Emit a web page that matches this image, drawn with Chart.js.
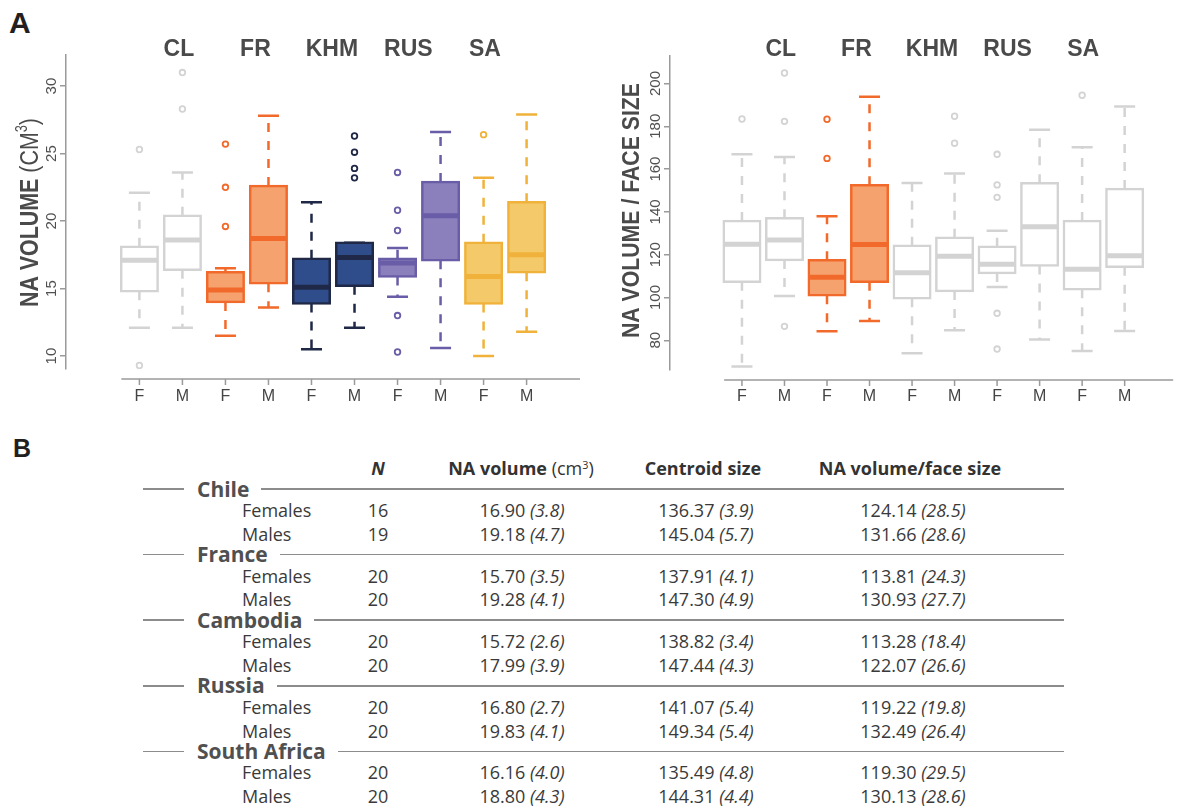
<!DOCTYPE html>
<html>
<head>
<meta charset="utf-8">
<script src="https://cdn.jsdelivr.net/npm/chart.js@4.4.1/dist/chart.umd.min.js"></script>
<style>
  html, body { margin: 0; padding: 0; background: #ffffff; }
  #page { position: relative; width: 1179px; height: 807px; overflow: hidden; font-family: "Open Sans", "Noto Sans", sans-serif; }
  .letter { position: absolute; font-family: "Liberation Sans", Arial, sans-serif; font-weight: bold; color: #231f20; line-height: 1; }
  #volWrap { position: absolute; left: 0; top: 0; width: 590px; height: 420px; }
  #ratioWrap { position: absolute; left: 590px; top: 0; width: 589px; height: 420px; }
  .t { position: absolute; white-space: nowrap; line-height: 1; color: #3a3a3a; font-size: 18px; }
  .c { transform: translate(-50%, -50%); }
  .l { transform: translate(0, -50%); }
  .hd { font-weight: bold; color: #333; }
  .hd .reg { font-weight: normal; }
  sup { font-size: 0.6em; vertical-align: 0.6em; line-height: 0; }
  .country { position: absolute; left: 143px; width: 921px; height: 26px; display: flex; align-items: center; }
  .country .rule { height: 1.5px; background: #8c8c8c; }
  .country .name { font-weight: bold; font-size: 21px; color: #505050; padding: 0 12px 0 13px; line-height: 1; }
</style>
</head>
<body>
<div id="page">
  <div class="letter" style="left:9px;top:8px;font-size:30px;">A</div>
  <div class="letter" style="left:13px;top:436px;font-size:25px;">B</div>
  <div id="volWrap"><canvas id="volChart" width="590" height="420"></canvas></div>
  <div id="ratioWrap"><canvas id="ratioChart" width="589" height="420"></canvas></div>
</div>
<script>
// Population groups along the x axis, each split into females and males
const groups = ['CL', 'FR', 'KHM', 'RUS', 'SA'];
const sexes = ['F', 'M'];

// NA volume (cm³); boxes ordered CL-F, CL-M, FR-F, FR-M, KHM-F, KHM-M, RUS-F, RUS-M, SA-F, SA-M
const volLow  = [12.1, 12.1, 11.5, 13.6, 10.5, 12.1, 14.4, 10.6, 10.0, 11.8];
const volQ1   = [14.8, 16.4, 14.0, 15.4, 13.9, 15.2, 15.9, 17.1, 13.9, 16.2];
const volMed  = [17.1, 18.6, 14.9, 18.7, 15.1, 17.3, 16.9, 20.4, 15.9, 17.5];
const volQ3   = [18.1, 20.4, 16.2, 22.6, 17.2, 18.4, 17.2, 22.9, 18.4, 21.4];
const volHigh = [22.1, 23.6, 16.5, 27.8, 21.4, 18.4, 18.0, 26.6, 23.2, 27.9];
const volOut  = [[25.3, 9.3], [31.0, 28.3], [25.7, 22.5, 19.6], [], [], [26.3, 25.1, 23.9, 23.2],
                 [23.6, 20.8, 19.3, 13.0, 10.3], [], [26.4], []];
const volTicks = [10, 15, 20, 25, 30];

// NA volume / face size
const ratioLow  = [67.7, 100.7, 84.2, 89.0, 73.9, 84.7, 104.9, 80.3, 75.0, 84.3];
const ratioQ1   = [107.4, 117.5, 101.0, 107.4, 99.6, 103.0, 111.4, 114.9, 103.8, 114.3];
const ratioMed  = [124.9, 126.9, 109.4, 124.7, 111.6, 119.3, 115.5, 133.1, 113.2, 119.5];
const ratioQ3   = [135.7, 137.0, 117.4, 152.4, 124.2, 127.9, 123.7, 153.4, 135.7, 150.7];
const ratioHigh = [166.9, 165.7, 138.0, 193.8, 153.5, 157.9, 131.2, 178.4, 170.2, 189.3];
const ratioOut  = [[183.4], [204.9, 182.3, 86.5], [183.3, 165.0], [], [], [184.7, 172.1],
                   [166.9, 152.6, 146.8, 92.6, 75.9], [], [194.5], []];
const ratioTicks = [80, 100, 120, 140, 160, 180, 200];

// Summary table: mean (SD) per country and sex
const countries   = ['Chile', 'France', 'Cambodia', 'Russia', 'South Africa'];
const nFemales    = [16, 20, 20, 20, 20];
const nMales      = [19, 20, 20, 20, 20];
const volMeanF    = [16.90, 15.70, 15.72, 16.80, 16.16];
const volSdF      = [3.8, 3.5, 2.6, 2.7, 4.0];
const volMeanM    = [19.18, 19.28, 17.99, 19.83, 18.80];
const volSdM      = [4.7, 4.1, 3.9, 4.1, 4.3];
const csMeanF     = [136.37, 137.91, 138.82, 141.07, 135.49];
const csSdF       = [3.9, 4.1, 3.4, 5.4, 4.8];
const csMeanM     = [145.04, 147.30, 147.44, 149.34, 144.31];
const csSdM       = [5.7, 4.9, 4.3, 5.4, 4.4];
const ratioMeanF  = [124.14, 113.81, 113.28, 119.22, 119.30];
const ratioSdF    = [28.5, 24.3, 18.4, 19.8, 29.5];
const ratioMeanM  = [131.66, 130.93, 122.07, 132.49, 130.13];
const ratioSdM    = [28.6, 27.7, 26.6, 26.4, 28.6];

// Colours per population group
const GREY = '#d3d3d3';
const groupFill = ['#ffffff', '#f5a26e', '#2f4d8b', '#8b80bb', '#f4c96a'];
const groupLine = [GREY, '#f26a2b', '#1f2846', '#6a5da8', '#f0b23a'];
const ratioFill = ['#ffffff', '#f5a26e', '#ffffff', '#ffffff', '#ffffff'];
const ratioLine = [GREY, '#f26a2b', GREY, GREY, GREY];

const AXIS = '#9a9a9a';
const TITLE = '#4a4a4a';
const SANS = '"Liberation Sans", Arial, sans-serif';

// Whiskers, caps, medians, the detached x axis line and the rotated y title
function boxExtras(spec) {
  return {
    id: 'boxExtras',
    beforeDatasetsDraw(chart) {
      const { ctx, scales: { x, y } } = chart;
      ctx.save();
      ctx.lineWidth = 2.5;
      for (let i = 0; i < spec.low.length; i++) {
        const px = x.getPixelForValue(i);
        ctx.strokeStyle = spec.lines[i];
        ctx.setLineDash([9, 9]);
        ctx.beginPath();
        ctx.moveTo(px, y.getPixelForValue(spec.q3[i]));
        ctx.lineTo(px, y.getPixelForValue(spec.high[i]));
        ctx.moveTo(px, y.getPixelForValue(spec.q1[i]));
        ctx.lineTo(px, y.getPixelForValue(spec.low[i]));
        ctx.stroke();
        ctx.setLineDash([]);
        ctx.beginPath();
        [spec.high[i], spec.low[i]].forEach(v => {
          const py = y.getPixelForValue(v);
          ctx.moveTo(px - 10.5, py);
          ctx.lineTo(px + 10.5, py);
        });
        ctx.stroke();
      }
      ctx.restore();
    },
    afterDatasetsDraw(chart) {
      const { ctx, scales: { x, y } } = chart;
      ctx.save();
      ctx.lineWidth = 5;
      for (let i = 0; i < spec.med.length; i++) {
        const px = x.getPixelForValue(i);
        const py = y.getPixelForValue(spec.med[i]);
        ctx.strokeStyle = spec.lines[i];
        ctx.beginPath();
        ctx.moveTo(px - 18, py);
        ctx.lineTo(px + 18, py);
        ctx.stroke();
      }
      ctx.restore();
    },
    afterDraw(chart) {
      const { ctx, chartArea, scales: { x } } = chart;
      ctx.save();
      // x axis line set below the plotting area, with a tick per box
      const ay = chartArea.bottom + 10;
      ctx.strokeStyle = AXIS;
      ctx.lineWidth = 1.5;
      ctx.beginPath();
      ctx.moveTo(x.getPixelForValue(-0.42), ay);
      ctx.lineTo(chartArea.right, ay);
      for (let i = 0; i < spec.low.length; i++) {
        const px = x.getPixelForValue(i);
        ctx.moveTo(px, ay);
        ctx.lineTo(px, ay + 6);
      }
      ctx.stroke();

      // rotated y title, reading bottom to top
      const t = spec.title;
      ctx.translate(t.baseX, t.startY);
      ctx.rotate(-Math.PI / 2);
      ctx.fillStyle = TITLE;
      ctx.textAlign = 'left';
      ctx.textBaseline = 'alphabetic';
      const fontOf = p => (p.bold ? 'bold ' : '') + (p.sup ? t.size * 0.6 : t.size) + 'px ' + SANS;
      let total = 0;
      t.parts.forEach(p => { ctx.font = fontOf(p); p.w = ctx.measureText(p.text).width; total += p.w; });
      ctx.scale(t.length / total, 1);
      let cx = 0;
      t.parts.forEach(p => {
        ctx.font = fontOf(p);
        ctx.fillText(p.text, cx, p.sup ? -t.size * 0.42 : 0);
        cx += p.w;
      });
      ctx.restore();
    }
  };
}

function buildBoxChart(canvas, spec) {
  const idx = spec.low.map((_, i) => i);
  const fills = idx.map(i => spec.fill[Math.floor(i / 2)]);
  const lines = idx.map(i => spec.line[Math.floor(i / 2)]);
  spec.lines = lines;
  const outPts = [], outCols = [];
  spec.out.forEach((arr, i) => arr.forEach(v => { outPts.push({ x: i, y: v }); outCols.push(lines[i]); }));

  return new Chart(canvas, {
    type: 'bar',
    data: {
      datasets: [
        {
          type: 'bar',
          data: idx.map(i => ({ x: i, y: [spec.q1[i], spec.q3[i]] })),
          backgroundColor: fills,
          borderColor: lines,
          borderWidth: 2.5,
          borderSkipped: false,
          barThickness: 36.5,
          inflateAmount: 1.25,
          order: 2
        },
        {
          type: 'scatter',
          data: outPts,
          showLine: false,
          pointRadius: 2.8,
          pointBorderWidth: 1.8,
          pointBackgroundColor: '#ffffff',
          pointBorderColor: outCols,
          order: 1
        }
      ]
    },
    options: {
      responsive: false,
      animation: false,
      devicePixelRatio: 1,
      events: [],
      layout: { padding: { left: 0, right: spec.padRight, top: 0, bottom: 0 } },
      plugins: { legend: { display: false }, tooltip: { enabled: false } },
      scales: {
        x: {
          type: 'linear', position: 'bottom', bounds: 'data',
          min: spec.xMin, max: spec.xMax,
          afterBuildTicks: s => { s.ticks = idx.map(v => ({ value: v })); },
          afterFit: s => { s.height = spec.xHeight; },
          ticks: {
            autoSkip: false, maxRotation: 0, padding: spec.xPad, color: '#444',
            font: { family: SANS, size: 16 },
            callback: (v, i) => sexes[i % 2]
          },
          grid: { display: false, drawTicks: false },
          border: { display: false }
        },
        x2: {
          type: 'linear', position: 'top', bounds: 'data',
          min: spec.xMin, max: spec.xMax,
          afterBuildTicks: s => { s.ticks = groups.map((g, i) => ({ value: 2 * i + 0.5 })); },
          afterFit: s => { s.height = spec.topHeight; },
          ticks: {
            autoSkip: false, maxRotation: 0, mirror: true, padding: spec.topPad, color: TITLE,
            font: { family: SANS, size: 23, weight: 'bold' },
            callback: (v, i) => groups[i]
          },
          grid: { display: false, drawTicks: false },
          border: { display: false }
        },
        y: {
          type: 'linear', position: 'left', bounds: 'data',
          min: spec.yMin, max: spec.yMax,
          afterBuildTicks: s => { s.ticks = spec.ticks.map(v => ({ value: v })); },
          afterFit: s => { s.width = spec.yWidth; },
          ticks: {
            minRotation: 90, maxRotation: 90, crossAlign: 'center', padding: spec.yPad,
            color: '#505050', font: { family: SANS, size: 15 }
          },
          grid: { drawOnChartArea: false, drawTicks: true, tickLength: 6, color: AXIS, lineWidth: 1.5 },
          border: { display: true, color: AXIS, width: 1.5 }
        }
      }
    },
    plugins: [boxExtras(spec)]
  });
}

buildBoxChart(document.getElementById('volChart'), {
  low: volLow, q1: volQ1, med: volMed, q3: volQ3, high: volHigh, out: volOut, ticks: volTicks,
  fill: groupFill, line: groupLine,
  xMin: -1.109, xMax: 9.644, yMin: 9.04, yMax: 32.3,
  yWidth: 66, padRight: 10, topHeight: 55, xHeight: 51,
  yPad: 0, xPad: 18, topPad: -18.8,
  title: {
    baseX: 38, startY: 307, length: 189, size: 26,
    parts: [{ text: 'NA VOLUME', bold: true }, { text: ' (CM' }, { text: '3', sup: true }, { text: ')' }]
  }
});

buildBoxChart(document.getElementById('ratioChart'), {
  low: ratioLow, q1: ratioQ1, med: ratioMed, q3: ratioQ3, high: ratioHigh, out: ratioOut, ticks: ratioTicks,
  fill: ratioFill, line: ratioLine,
  xMin: -1.1007, xMax: 9.55, yMin: 66.1, yMax: 212.85,
  yWidth: 80, padRight: 0, topHeight: 56, xHeight: 50,
  yPad: -4, xPad: 17, topPad: -19.8,
  title: {
    baseX: 49, startY: 338, length: 255, size: 24,
    parts: [{ text: 'NA VOLUME / FACE SIZE', bold: true }]
  }
});

// Summary table (panel B)
const page = document.getElementById('page');
function addText(html, x, y, cls) {
  const d = document.createElement('div');
  d.className = 't ' + cls;
  d.innerHTML = html;
  d.style.left = x + 'px';
  d.style.top = y + 'px';
  page.appendChild(d);
  return d;
}
const colN = 378, colVol = 522, colCs = 706, colRatio = 913, colLabel = 242;
const fmt = (m, sd) => m.toFixed(2) + ' <i>(' + sd.toFixed(1) + ')</i>';

addText('<i>N</i>', colN, 468, 'c hd');
addText('NA volume <span class="reg">(cm<sup>3</sup>)</span>', 521, 468, 'c hd');
addText('Centroid size', 703, 468, 'c hd');
addText('NA volume/face size', 910, 468, 'c hd');

countries.forEach((name, i) => {
  const ly = 489 + i * 65.6;
  const row = document.createElement('div');
  row.className = 'country';
  row.style.top = (ly - 13) + 'px';
  row.innerHTML = '<div class="rule" style="width:41px"></div><div class="name">' + name +
                  '</div><div class="rule" style="flex:1"></div>';
  page.appendChild(row);

  const fy = ly + 21, my = ly + 44.8;
  addText('Females', colLabel, fy, 'l');
  addText(String(nFemales[i]), colN, fy, 'c');
  addText(fmt(volMeanF[i], volSdF[i]), colVol, fy, 'c');
  addText(fmt(csMeanF[i], csSdF[i]), colCs, fy, 'c');
  addText(fmt(ratioMeanF[i], ratioSdF[i]), colRatio, fy, 'c');

  addText('Males', colLabel, my, 'l');
  addText(String(nMales[i]), colN, my, 'c');
  addText(fmt(volMeanM[i], volSdM[i]), colVol, my, 'c');
  addText(fmt(csMeanM[i], csSdM[i]), colCs, my, 'c');
  addText(fmt(ratioMeanM[i], ratioSdM[i]), colRatio, my, 'c');
});
</script>
</body>
</html>
